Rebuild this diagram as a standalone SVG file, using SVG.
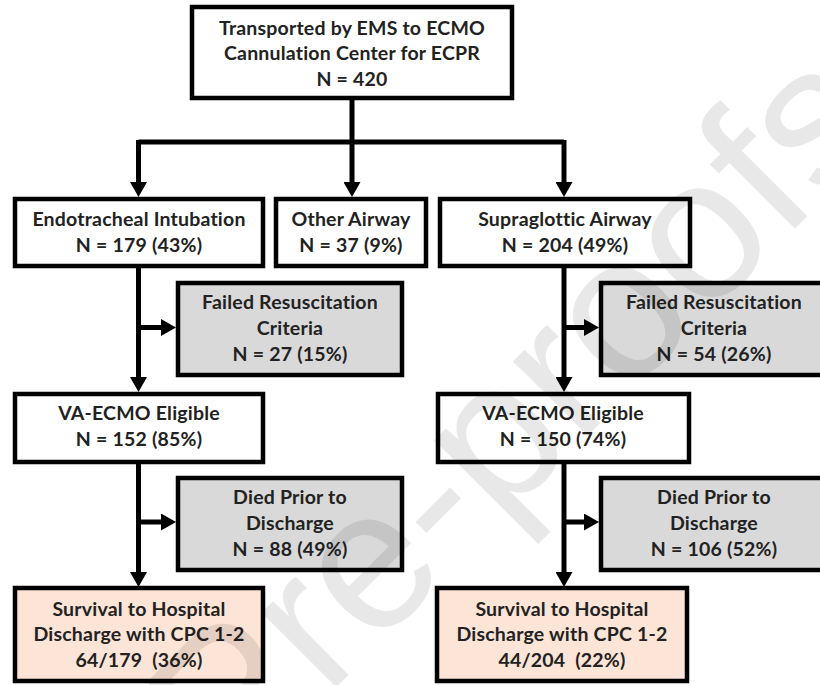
<svg xmlns="http://www.w3.org/2000/svg" width="820" height="685" viewBox="0 0 820 685">
<defs>
<marker id="ah" markerUnits="userSpaceOnUse" markerWidth="15" markerHeight="17" refX="0" refY="8.5" orient="auto">
<path d="M0,0 L15,8.5 L0,17 Z" fill="#000"/>
</marker>
<style>
.box{stroke:#000;stroke-width:4.5}
.w{fill:#fff}
.g{fill:#d9d9d9}
.p{fill:#fce4d6}
text{font-family:Lato,"Liberation Sans",sans-serif;font-weight:bold;font-size:19.5px;letter-spacing:0.2px;fill:#222;text-anchor:middle}
.sp{white-space:pre}
.c{fill:none;stroke:#000;stroke-width:5}
.wm{font-family:"Liberation Sans",sans-serif;font-weight:normal;font-size:200px;letter-spacing:0;fill:#000;fill-opacity:0.09;text-anchor:start}
</style>
</defs>
<rect width="820" height="685" fill="#fff"/>
<g id="connectors">
<path class="c" d="M352,98 V142 M138.5,142 H564"/>
<path class="c" d="M138.5,140 V182" marker-end="url(#ah)"/>
<path class="c" d="M352,142 V182" marker-end="url(#ah)"/>
<path class="c" d="M564,140 V182" marker-end="url(#ah)"/>
<path class="c" d="M138.5,266 V377" marker-end="url(#ah)"/>
<path class="c" d="M138.5,327.5 H161" marker-end="url(#ah)"/>
<path class="c" d="M564,266 V377" marker-end="url(#ah)"/>
<path class="c" d="M564,327.5 H584" marker-end="url(#ah)"/>
<path class="c" d="M138.5,462 V572" marker-end="url(#ah)"/>
<path class="c" d="M138.5,522 H161" marker-end="url(#ah)"/>
<path class="c" d="M564,462 V572" marker-end="url(#ah)"/>
<path class="c" d="M564,522 H584" marker-end="url(#ah)"/>
</g>
<g id="n-top"><rect class="box w" x="192" y="7" width="320" height="91"/>
<text x="352" y="35">Transported by EMS to ECMO</text><text x="352" y="60">Cannulation Center for ECPR</text><text x="352" y="86">N = 420</text></g>
<g id="n-ett"><rect class="box w" x="15" y="199" width="248" height="67"/>
<text x="139" y="226">Endotracheal Intubation</text><text x="139" y="251.5">N = 179 (43%)</text></g>
<g id="n-other"><rect class="box w" x="276" y="199" width="150" height="67"/>
<text x="351" y="226">Other Airway</text><text x="351" y="251.5">N = 37 (9%)</text></g>
<g id="n-sga"><rect class="box w" x="440" y="199" width="250" height="67"/>
<text x="565" y="226">Supraglottic Airway</text><text x="565" y="251.5">N = 204 (49%)</text></g>
<g id="n-failL"><rect class="box g" x="178" y="283" width="224" height="92"/>
<text x="290" y="309">Failed Resuscitation</text><text x="290" y="334.5">Criteria</text><text x="290" y="361">N = 27 (15%)</text></g>
<g id="n-failR"><rect class="box g" x="601" y="283" width="222" height="92"/>
<text x="714" y="309">Failed Resuscitation</text><text x="714" y="334.5">Criteria</text><text x="714" y="361">N = 54 (26%)</text></g>
<g id="n-vaL"><rect class="box w" x="15" y="394" width="248" height="68"/>
<text x="139" y="420">VA-ECMO Eligible</text><text x="139" y="445.5">N = 152 (85%)</text></g>
<g id="n-vaR"><rect class="box w" x="438" y="394" width="251" height="68"/>
<text x="563" y="420">VA-ECMO Eligible</text><text x="563" y="445.5">N = 150 (74%)</text></g>
<g id="n-diedL"><rect class="box g" x="178" y="478" width="224" height="92"/>
<text x="290" y="504">Died Prior to</text><text x="290" y="529.5">Discharge</text><text x="290" y="555.5">N = 88 (49%)</text></g>
<g id="n-diedR"><rect class="box g" x="601" y="478" width="222" height="92"/>
<text x="714" y="504">Died Prior to</text><text x="714" y="529.5">Discharge</text><text x="714" y="555.5">N = 106 (52%)</text></g>
<g id="n-survL"><rect class="box p" x="15" y="588" width="248" height="93"/>
<text x="139" y="615.5">Survival to Hospital</text><text x="139" y="641">Discharge with CPC 1-2</text><text class="sp" x="139" y="667">64/179  (36%)</text></g>
<g id="n-survR"><rect class="box p" x="437" y="588" width="250" height="93"/>
<text x="562" y="615.5">Survival to Hospital</text><text x="562" y="641">Discharge with CPC 1-2</text><text class="sp" x="562" y="667">44/204  (22%)</text></g>
<text class="wm" transform="translate(439,511) rotate(-45)" x="-344.5" y="52">Pre-proofs</text>
</svg>
